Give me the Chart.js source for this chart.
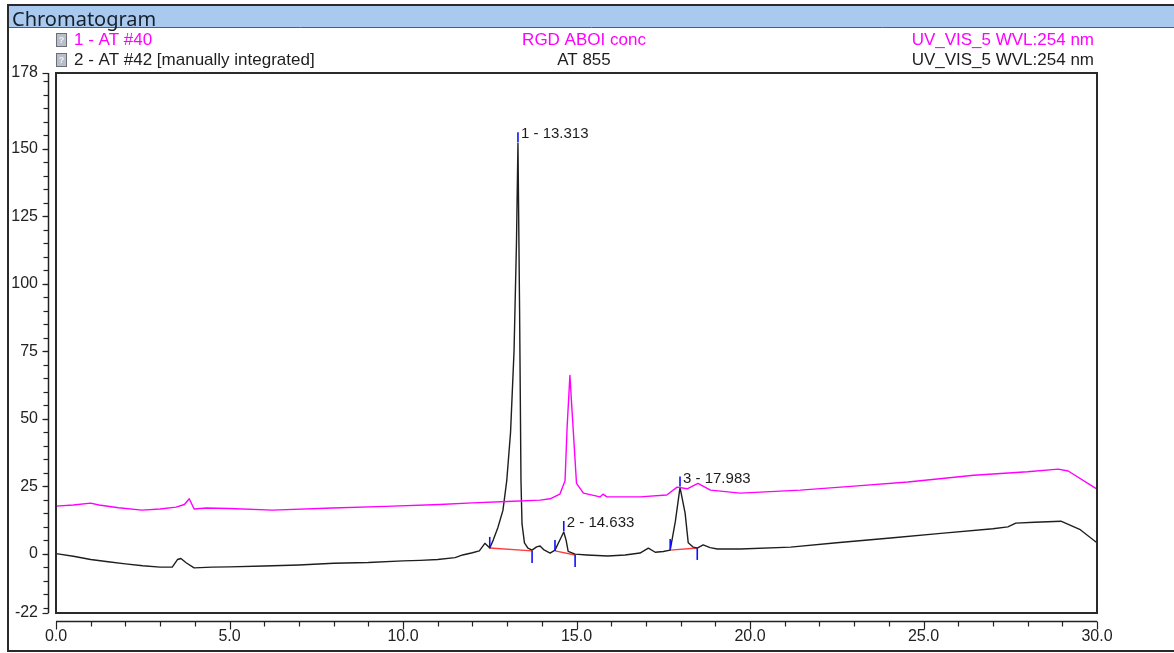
<!DOCTYPE html>
<html><head><meta charset="utf-8">
<script src="https://cdn.jsdelivr.net/npm/chart.js@4.4.1/dist/chart.umd.min.js"></script>
<style>html,body{margin:0;padding:0;background:#fff;}canvas{display:block;}</style>
</head><body>
<canvas id="c" width="1174" height="653"></canvas>
<script>
// ---- data (time in min, signal in mAU) ----
const time1  = [0, 0.5, 1.0, 1.24, 1.8, 2.48, 3.0, 3.46, 3.7, 3.84, 3.98, 4.33, 5.0, 6.24, 7.97, 9.5, 11.06, 12.0, 13.0, 13.95, 14.24, 14.52, 14.67, 14.73, 14.81, 14.9, 15.0, 15.2, 15.68, 15.76, 15.88, 16.83, 17.6, 17.9, 18.19, 18.5, 18.86, 19.72, 21.45, 23.0, 24.55, 26.45, 28.0, 28.88, 29.17, 30.0];
const value1 = [17.6, 18.0, 18.7, 18.0, 17.0, 16.1, 16.5, 17.2, 18.2, 20.3, 16.5, 16.9, 16.7, 16.1, 16.9, 17.5, 18.2, 18.8, 19.3, 19.8, 20.3, 22.0, 27.0, 47.0, 66.0, 47.0, 26.0, 22.4, 21.0, 22.0, 21.0, 21.0, 21.7, 24.6, 24.0, 26.0, 23.5, 22.4, 23.5, 25.0, 26.5, 29.0, 30.3, 31.3, 30.6, 23.9];

const time2  = [0, 0.5, 1.0, 1.5, 2.0, 2.5, 3.0, 3.35, 3.5, 3.6, 3.75, 3.98, 4.5, 5.0, 6.0, 7.0, 8.0, 9.0, 10.0, 10.5, 11.0, 11.5, 11.72, 12.0, 12.2, 12.36, 12.5, 12.6, 12.73, 12.88, 12.99, 13.1, 13.2, 13.27, 13.313, 13.36, 13.40, 13.43, 13.5, 13.6, 13.72, 13.85, 13.95, 14.05, 14.24, 14.38, 14.5, 14.633, 14.7, 14.76, 14.96, 15.3, 15.9, 16.4, 16.83, 17.07, 17.27, 17.5, 17.7, 17.85, 17.983, 18.13, 18.22, 18.35, 18.48, 18.65, 18.85, 19.06, 19.72, 21.17, 22.5, 24.05, 25.5, 27.0, 27.43, 27.66, 28.2, 28.96, 29.5, 30.0];
const value2 = [0, -1.0, -2.2, -3.0, -3.8, -4.5, -5.0, -5.0, -2.2, -1.8, -3.4, -5.3, -5.0, -4.9, -4.6, -4.2, -3.6, -3.3, -2.7, -2.5, -2.2, -1.5, -0.5, 0.3, 1.0, 3.8, 2.1, 5.0, 9.5, 16.0, 27.0, 45.0, 75.0, 115.0, 152.0, 90.0, 27.0, 11.0, 4.0, 2.0, 1.3, 2.5, 2.8, 1.5, 0.2, 1.3, 4.5, 8.0, 5.0, 0.8, -0.2, -0.5, -0.9, -0.5, 0.2, 2.0, 0.5, 0.8, 1.3, 12.0, 24.5, 15.0, 4.0, 2.5, 2.0, 3.2, 2.2, 1.7, 1.7, 2.4, 4.0, 5.8, 7.5, 9.2, 9.9, 11.3, 11.6, 12.0, 9.0, 4.0];

const yTickValues = [-22, 0, 25, 50, 75, 100, 125, 150, 178];
const xTickValues = [0, 5, 10, 15, 20, 25, 30];

const peakNames      = ['1 - 13.313', '2 - 14.633', '3 - 17.983'];
const peakApexTime   = [13.313, 14.633, 17.983];
const peakApexValue  = [152.0, 8.0, 24.5];
const peakStartTime  = [12.5, 14.38, 17.7];
const peakStartValue = [2.1, 1.0, 1.3];
const peakEndTime    = [13.72, 14.96, 18.48];
const peakEndValue   = [1.0, -0.5, 2.1];

const traceNames    = ['1 - AT #40', '2 - AT #42 [manually integrated]'];
const traceSamples  = ['RGD ABOI conc', 'AT 855'];
const traceChannels = ['UV_VIS_5 WVL:254 nm', 'UV_VIS_5 WVL:254 nm'];
const traceColors   = ['#ff00ff', '#1e1e1e'];

// ---- build datasets ----
const pts = (ts, vs) => ts.map((t, i) => ({x: t, y: vs[i]}));
const datasets = [
  {data: pts(time1, value1), borderColor: traceColors[0], borderWidth: 1.4, pointRadius: 0, tension: 0, borderJoinStyle: 'round'},
  {data: pts(time2, value2), borderColor: traceColors[1], borderWidth: 1.4, pointRadius: 0, tension: 0, borderJoinStyle: 'round'}
];
peakStartTime.forEach((t, i) => {
  datasets.push({data: [{x: t, y: peakStartValue[i]}, {x: peakEndTime[i], y: peakEndValue[i]}],
    borderColor: '#ff3b3b', borderWidth: 1.4, pointRadius: 0, tension: 0});
});

const FONT = '"Liberation Sans", Arial, sans-serif';

const decor = {
  id: 'decor',
  beforeDraw(chart) {
    const c = chart.ctx;
    c.save();
    c.fillStyle = '#fff'; c.fillRect(0, 0, chart.width, chart.height);
    // title bar
    c.fillStyle = '#a9c9ef'; c.fillRect(9, 6, 1165, 21);
    c.strokeStyle = '#2a2a2a'; c.lineWidth = 2;
    c.beginPath(); c.moveTo(7, 5); c.lineTo(1174, 5); c.stroke();
    c.beginPath(); c.moveTo(8, 4); c.lineTo(8, 651); c.lineTo(1174, 651); c.stroke();
    c.strokeStyle = '#4d5d75'; c.lineWidth = 1;
    c.beginPath(); c.moveTo(9, 27.5); c.lineTo(1174, 27.5); c.stroke();
    c.fillStyle = '#16202c'; c.font = '20px "Noto Sans"'; c.textBaseline = 'alphabetic'; c.textAlign = 'left';
    c.fillText('Chromatogram', 12, 26);
    // legend rows
    const rowY = [40, 60];
    for (let i = 0; i < 2; i++) {
      const y = rowY[i];
      // icon
      c.fillStyle = '#b9bec8'; c.fillRect(56, y - 7, 11, 14);
      c.strokeStyle = '#6a6f78'; c.lineWidth = 1; c.strokeRect(56.5, y - 6.5, 10, 13);
      c.fillStyle = '#eef2f8'; c.font = 'bold 9px ' + FONT; c.textAlign = 'center'; c.textBaseline = 'middle';
      c.fillText('?', 61.5, y + 1);
      c.fillStyle = traceColors[i]; c.font = '17px ' + FONT;
      c.textAlign = 'left'; c.fillText(traceNames[i], 74, y);
      c.textAlign = 'center'; c.fillText(traceSamples[i], 584, y);
      c.textAlign = 'right'; c.fillText(traceChannels[i], 1094, y);
    }
    c.restore();
  },
  afterDraw(chart) {
    const c = chart.ctx, a = chart.chartArea, xs = chart.scales.x, ys = chart.scales.y;
    c.save();
    // plot frame
    c.strokeStyle = '#2a2a2a'; c.lineWidth = 2;
    c.strokeRect(a.left, a.top, a.right - a.left, a.bottom - a.top);
    // y axis line + ticks
    const ax = a.left - 7.5;
    c.lineWidth = 1.5; c.strokeStyle = '#222';
    c.beginPath(); c.moveTo(ax, a.top); c.lineTo(ax, a.bottom); c.stroke();
    c.lineWidth = 1.2;
    for (let v = -20; v <= 175; v += 5) {
      const y = Math.round(ys.getPixelForValue(v)) + 0.5;
      c.beginPath(); c.moveTo(ax - 5, y); c.lineTo(ax, y); c.stroke();
    }
    yTickValues.forEach(v => {
      const y = Math.round(ys.getPixelForValue(v)) + 0.5;
      c.beginPath(); c.moveTo(ax - 6, y); c.lineTo(ax, y); c.stroke();
    });
    // x axis line + ticks
    const ay = a.bottom + 8.5;
    c.lineWidth = 1.5;
    c.beginPath(); c.moveTo(xs.getPixelForValue(0), ay); c.lineTo(xs.getPixelForValue(30), ay); c.stroke();
    c.lineWidth = 1.2;
    for (let t = 0; t <= 30; t += 1) {
      const x = Math.round(xs.getPixelForValue(t)) + 0.5;
      const len = (t % 5 === 0) ? 8 : 5;
      c.beginPath(); c.moveTo(x, ay); c.lineTo(x, ay + len); c.stroke();
    }
    // integration markers
    c.strokeStyle = '#1010ff'; c.lineWidth = 1.6;
    const vline = (x, y0, y1) => { c.beginPath(); c.moveTo(x, y0); c.lineTo(x, y1); c.stroke(); };
    for (let i = 0; i < peakNames.length; i++) {
      const sx = xs.getPixelForValue(peakStartTime[i]), sy = ys.getPixelForValue(peakStartValue[i]);
      vline(sx, sy, sy - 11);
      const ex = xs.getPixelForValue(peakEndTime[i]), ey = ys.getPixelForValue(peakEndValue[i]);
      vline(ex, ey, ey + 12);
      const px = xs.getPixelForValue(peakApexTime[i]), py = ys.getPixelForValue(peakApexValue[i]);
      vline(px, py - 1, py - 11);
      c.fillStyle = '#1c1c1c'; c.font = '15px ' + FONT; c.textAlign = 'left'; c.textBaseline = 'middle';
      c.fillText(peakNames[i], px + 3, py - 9);
    }
    c.restore();
  }
};

new Chart(document.getElementById('c'), {
  type: 'line',
  data: {datasets},
  options: {
    responsive: false, animation: false,
    layout: {padding: {left: 8, top: 73, right: 77, bottom: 0}},
    scales: {
      x: {
        type: 'linear', min: 0, max: 30,
        afterFit(s) { s.height = 40; },
        afterBuildTicks(s) { s.ticks = xTickValues.map(v => ({value: v})); },
        grid: {display: false, drawTicks: false}, border: {display: false},
        ticks: {autoSkip: false, maxRotation: 0, padding: 14, color: '#222',
          font: {family: FONT, size: 16}, callback: v => Number(v).toFixed(1)}
      },
      y: {
        type: 'linear', min: -22, max: 178,
        afterFit(s) { s.width = 48; },
        afterBuildTicks(s) { s.ticks = yTickValues.map(v => ({value: v})); },
        grid: {display: false, drawTicks: false}, border: {display: false},
        ticks: {autoSkip: false, padding: 18, color: '#222',
          font: {family: FONT, size: 16}, callback: v => String(v)}
      }
    },
    plugins: {legend: {display: false}, tooltip: {enabled: false}}
  },
  plugins: [decor]
});
</script>
</body></html>
